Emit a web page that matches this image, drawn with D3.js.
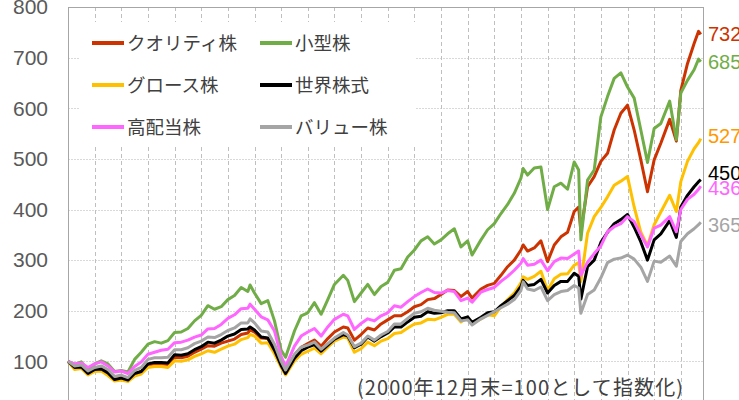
<!DOCTYPE html>
<html>
<head>
<meta charset="utf-8">
<script src="https://cdn.jsdelivr.net/npm/d3@7"></script>
<style>
  body { margin: 0; background: #fff; }
  svg { display: block; }
</style>
</head>
<body>
<svg id="chart" width="739" height="400"></svg>
<script>
// quarterly readings (plus a few turning points), Dec 2000 = 100
const dates = [
  "2000-12","2001-03","2001-06","2001-09","2001-12","2002-03","2002-06","2002-09","2002-12","2003-03",
  "2003-06","2003-09","2003-12","2004-03","2004-06","2004-09","2004-12","2005-03","2005-06","2005-09",
  "2005-12","2006-03","2006-06","2006-09","2006-12","2007-03","2007-06","2007-09","2007-10","2007-12",
  "2008-03","2008-06","2008-09","2008-12","2009-02","2009-06","2009-09","2009-12","2010-03","2010-06",
  "2010-09","2010-12","2011-04","2011-06","2011-09","2011-12","2012-03","2012-06","2012-09","2012-12",
  "2013-03","2013-06","2013-09","2013-12","2014-03","2014-06","2014-09","2014-12","2015-03","2015-06",
  "2015-09","2015-12","2016-02","2016-06","2016-09","2016-12","2017-03","2017-06","2017-09","2017-12",
  "2018-01","2018-03","2018-06","2018-09","2018-12","2019-03","2019-06","2019-09","2019-12","2020-02",
  "2020-03","2020-06","2020-09","2020-12","2021-03","2021-06","2021-09","2021-12","2022-03","2022-06",
  "2022-09","2022-12","2023-03","2023-07","2023-10","2023-12","2024-03","2024-06","2024-08","2024-09"
];

const quality = [
  100,88,89,77,84,86,78,66,69,64,
  75,80,93,95,95,94,108,107,110,118,
  124,131,130,136,140,144,153,156,162,158,
  146,145,126,96,79,112,128,135,142,130,
  145,158,168,166,142,153,166,162,174,182,
  190,190,198,208,212,222,224,232,241,240,
  228,238,225,243,250,254,270,287,300,320,
  330,318,324,338,297,330,346,355,396,405,
  356,445,465,495,511,557,590,606,557,498,
  435,498,531,578,535,635,688,728,752,746
];
const smallCap = [
  100,94,99,83,95,101,95,80,82,79,
  104,118,134,139,136,141,157,158,165,180,
  191,210,203,208,222,230,246,238,251,235,
  214,220,180,122,108,160,190,196,216,193,
  222,252,270,260,218,235,252,232,248,256,
  280,283,306,320,338,346,332,340,352,362,
  326,338,310,340,360,372,392,410,432,462,
  481,468,482,484,400,445,452,440,494,478,
  340,458,478,583,623,659,670,642,620,557,
  493,560,570,614,538,630,655,676,697,692
];
const growth = [
  100,84,86,73,80,81,72,61,63,60,
  71,75,88,90,90,88,101,100,103,110,
  115,121,118,124,130,134,143,147,153,150,
  136,137,115,88,73,101,114,120,126,115,
  128,140,148,146,118,125,138,131,140,145,
  155,157,166,174,176,183,182,187,193,193,
  178,187,175,184,192,190,208,222,235,255,
  267,262,268,278,240,263,272,273,290,295,
  258,353,386,404,425,448,456,465,405,355,
  328,370,395,428,396,455,495,520,532,540
];
const world = [
  100,88,89,76,84,85,77,64,67,63,
  76,80,95,98,98,97,113,112,115,123,
  129,138,136,142,150,154,163,164,168,162,
  148,146,122,92,76,106,121,128,133,120,
  132,144,153,150,127,134,148,140,149,156,
  168,168,178,187,189,198,195,196,200,200,
  184,188,177,187,196,198,210,220,230,248,
  260,250,252,262,235,250,258,258,274,268,
  223,287,300,335,355,372,380,390,365,336,
  300,340,352,378,345,405,428,445,455,459
];
const highDiv = [
  100,95,97,88,95,99,91,79,81,76,
  90,99,114,118,122,124,137,138,142,148,
  152,164,165,173,185,192,204,205,213,203,
  188,182,160,110,90,130,150,158,165,150,
  168,183,193,190,163,175,184,180,190,196,
  210,207,218,228,236,243,236,235,240,238,
  220,225,217,237,242,246,258,268,280,294,
  303,290,292,300,279,297,304,303,312,318,
  270,296,313,328,356,366,372,386,376,350,
  326,363,369,386,356,400,420,430,440,446
];
const value = [
  100,91,93,81,88,91,84,70,73,68,
  82,88,104,107,107,108,123,123,127,135,
  140,148,147,153,161,166,176,176,184,176,
  160,158,134,100,83,114,128,132,138,124,
  135,146,157,152,129,136,150,142,152,159,
  174,174,185,195,198,205,201,199,197,196,
  180,182,172,184,191,198,206,213,222,240,
  257,243,240,247,220,232,238,240,250,245,
  195,232,241,265,295,302,304,310,302,286,
  258,298,296,308,288,337,352,362,370,375
];

const seriesNames = ["クオリティ株", "小型株", "グロース株", "世界株式", "高配当株", "バリュー株"];
const seriesValues = [quality, smallCap, growth, world, highDiv, value];
const seriesColors = ["#CC3300", "#70AD47", "#FFC000", "#000000", "#FF66FF", "#A5A5A5"];
const labelColors = ["#CC3300", "#70AD47", "#FF9900", "#000000", "#FF66FF", "#A5A5A5"];
const endLabels = ["732", "685", "527", "450", "436", "365"];
const yTicks = [100, 200, 300, 400, 500, 600, 700, 800];
const note = "(2000年12月末=100として指数化)";

const svg = d3.select("#chart");
const plotL = 68, plotR = 703, plotT = 7, plotB = 412;

// months counted from Dec 2000
function monthIndex(s) {
  const [yy, mm] = s.split("-").map(Number);
  return (yy - 2000) * 12 + (mm - 12);
}

const x = d3.scaleLinear().domain([0, 286]).range([plotL, plotR]);
const y = d3.scaleLinear().domain([0, 800]).range([plotB, plotT]);

// horizontal grid
svg.append("g")
  .selectAll("line")
  .data(yTicks.slice(0, -1))
  .enter().append("line")
  .attr("x1", plotL).attr("x2", plotR)
  .attr("y1", d => Math.round(y(d)) + 0.5).attr("y2", d => Math.round(y(d)) + 0.5)
  .attr("stroke", "#d9d9d9")
  .attr("stroke-dasharray", "2,1");

// vertical grid at each year end
svg.append("g")
  .selectAll("line")
  .data(d3.range(12, 286, 12))
  .enter().append("line")
  .attr("x1", d => Math.round(x(d)) + 0.5).attr("x2", d => Math.round(x(d)) + 0.5)
  .attr("y1", plotT).attr("y2", 400)
  .attr("stroke", "#bfbfbf")
  .attr("stroke-dasharray", "4,3");

// legend box hides the grid behind it
svg.append("rect")
  .attr("x", 80).attr("y", 22)
  .attr("width", 335).attr("height", 125)
  .attr("fill", "#fff");

// plot frame
svg.append("rect")
  .attr("x", plotL + 0.5).attr("y", plotT + 0.5)
  .attr("width", plotR - plotL).attr("height", plotB - plotT)
  .attr("fill", "none")
  .attr("stroke", "#a6a6a6");

// y axis labels
svg.append("g")
  .selectAll("text")
  .data(yTicks)
  .enter().append("text")
  .attr("x", 48)
  .attr("y", d => y(d))
  .attr("dy", "0.35em")
  .attr("text-anchor", "end")
  .attr("font-family", "Liberation Sans, Arial, sans-serif")
  .attr("font-size", 21)
  .attr("fill", "#595959")
  .text(d => d);

const line = d3.line()
  .x(d => x(d[0]))
  .y(d => y(d[1]));

const lines = svg.append("g");
seriesValues.forEach((vals, i) => {
  const pts = dates.map((dt, j) => [monthIndex(dt), vals[j]]);
  lines.append("path")
    .datum(pts)
    .attr("d", line)
    .attr("fill", "none")
    .attr("stroke", seriesColors[i])
    .attr("stroke-width", 3)
    .attr("stroke-linejoin", "round");
});

// end labels, nudged apart where they collide
const labelShift = [0, 0, -3, -7, 2, 3];
svg.append("g")
  .selectAll("text")
  .data(seriesValues)
  .enter().append("text")
  .attr("x", 708)
  .attr("y", (vals, i) => y(vals[vals.length - 1]) + labelShift[i])
  .attr("dy", "0.35em")
  .attr("font-family", "Liberation Sans, Arial, sans-serif")
  .attr("font-size", 20)
  .attr("fill", (d, i) => labelColors[i])
  .text((d, i) => endLabels[i]);

// legend
const legend = svg.append("g");
seriesNames.forEach((name, i) => {
  const col = i % 2, row = Math.floor(i / 2);
  const lx = col === 0 ? 92 : 260;
  const ly = 43 + row * 42;
  legend.append("line")
    .attr("x1", lx).attr("x2", lx + 32)
    .attr("y1", ly).attr("y2", ly)
    .attr("stroke", seriesColors[i])
    .attr("stroke-width", 4);
  legend.append("text")
    .attr("x", lx + 35)
    .attr("y", ly)
    .attr("dy", "0.36em")
    .attr("font-family", "Noto Sans CJK JP, sans-serif")
    .attr("font-size", 18.5)
    .attr("fill", "#404040")
    .text(name);
});

// footnote
svg.append("text")
  .attr("x", 357)
  .attr("y", 395)
  .attr("font-family", "Noto Sans CJK JP, sans-serif")
  .attr("font-size", 20)
  .attr("textLength", 326)
  .attr("lengthAdjust", "spacing")
  .attr("fill", "#404040")
  .text(note);
</script>
</body>
</html>
